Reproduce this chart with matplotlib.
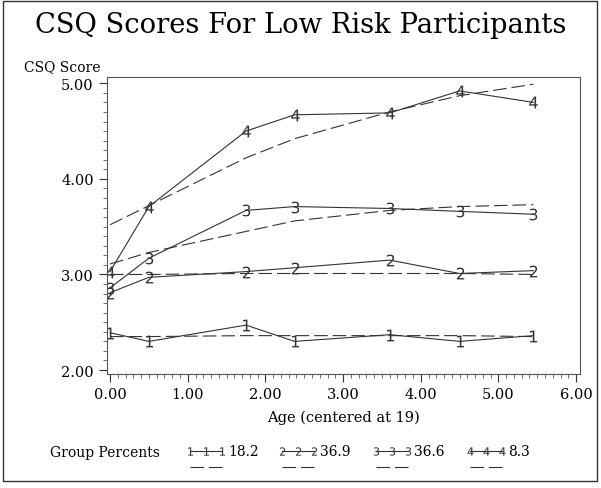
import matplotlib.pyplot as plt
from matplotlib.lines import Line2D
from matplotlib.patches import Rectangle
from matplotlib.ticker import MultipleLocator, FormatStrFormatter

# age centered at 19 (measurement times)
ages = [0.0, 0.5, 1.75, 2.375, 3.6, 4.5, 5.45]

# observed group means
obs1 = [2.39, 2.30, 2.47, 2.30, 2.37, 2.30, 2.36]
obs2 = [2.81, 2.97, 3.03, 3.07, 3.15, 3.01, 3.04]
obs3 = [2.86, 3.17, 3.67, 3.71, 3.69, 3.66, 3.63]
obs4 = [3.03, 3.71, 4.50, 4.67, 4.69, 4.92, 4.80]

# fitted trajectories (dashed)
fit1 = [2.35, 2.35, 2.36, 2.36, 2.36, 2.36, 2.35]
fit2 = [3.00, 3.00, 3.01, 3.01, 3.01, 3.01, 3.00]
fit3 = [3.11, 3.23, 3.45, 3.56, 3.67, 3.71, 3.73]
fit4 = [3.52, 3.72, 4.22, 4.42, 4.70, 4.87, 4.99]

groups = ["1", "2", "3", "4"]
percents = ["18.2", "36.9", "36.6", "8.3"]

xticks = [0, 1, 2, 3, 4, 5, 6]
yticks = [2, 3, 4, 5]

serif = "DejaVu Serif"
col = "#333333"
dash = (0, (12.2, 4.5))

fig = plt.figure(figsize=(6.01, 4.89), dpi=100)
ax = fig.add_axes([0.178, 0.233, 0.787, 0.607])

observed = [obs1, obs2, obs3, obs4]
fitted = [fit1, fit2, fit3, fit4]
for g, ob, ft in zip(groups, observed, fitted):
    ax.plot(ages, ob, color=col, lw=0.8, marker="$" + g + "$", markersize=8.5,
            markeredgewidth=0.0, markerfacecolor=col)
    ax.plot(ages, ft, color=col, lw=0.8, linestyle=dash)

ax.set_xlim(-0.04, 6.05)
ax.set_ylim(1.958, 5.063)
ax.set_xticks(xticks)
ax.set_yticks(yticks)
ax.xaxis.set_minor_locator(MultipleLocator(0.1))
ax.yaxis.set_minor_locator(MultipleLocator(0.1))
ax.xaxis.set_major_formatter(FormatStrFormatter("%.2f"))
ax.yaxis.set_major_formatter(FormatStrFormatter("%.2f"))
ax.tick_params(which="major", length=6, width=0.8, labelsize=10.5, colors="#333333",
               labelcolor="black")
ax.tick_params(which="minor", length=3, width=0.6, colors="#555555")
for lab in ax.get_xticklabels() + ax.get_yticklabels():
    lab.set_fontfamily(serif)
for s in ax.spines.values():
    s.set_linewidth(0.8)
    s.set_color("#555555")

ax.set_xlabel("Age (centered at 19)", fontfamily=serif, fontsize=10.5, labelpad=6)

fig.text(0.5, 0.948, "CSQ Scores For Low Risk Participants", ha="center", va="center",
         fontfamily=serif, fontsize=19.7)
fig.text(0.168, 0.862, "CSQ Score", ha="right", va="center", fontfamily=serif, fontsize=10)

# legend at the bottom
fig.text(0.083, 0.074, "Group Percents", ha="left", va="center", fontfamily=serif, fontsize=10)
starts = [190, 282, 376, 470]
W, H = 601.0, 489.0
for g, p, x0 in zip(groups, percents, starts):
    xs = [x0 / W, (x0 + 16) / W, (x0 + 32) / W]
    fig.add_artist(Line2D(xs, [1 - 452 / H] * 3, color=col, lw=0.8,
                          marker="$" + g + "$", markersize=6, markeredgewidth=0.0))
    fig.add_artist(Line2D([x0 / W, (x0 + 32) / W], [1 - 468 / H] * 2, color=col, lw=0.8,
                          linestyle=dash))
    fig.text((x0 + 38) / W, 1 - 452 / H, p, ha="left", va="center",
             fontfamily=serif, fontsize=10)

fig.add_artist(Rectangle((3 / W, 1 - 482 / H), 594 / W, 480 / H, transform=fig.transFigure,
                         fill=False, edgecolor="#333333", lw=1.0))

fig.savefig("out.png", dpi=100)
